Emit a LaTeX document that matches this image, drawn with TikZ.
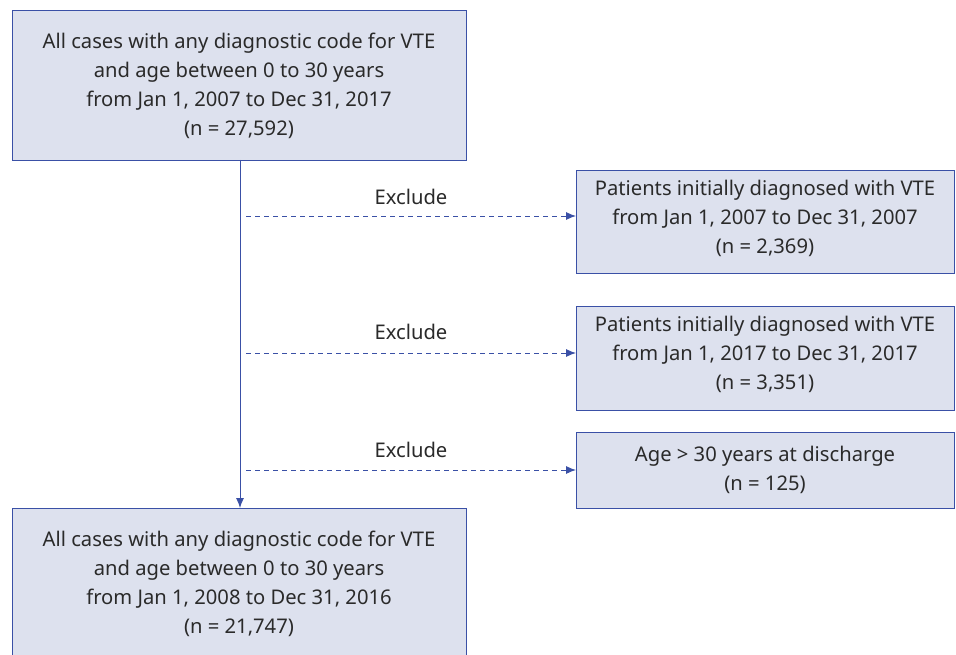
\documentclass[tikz,border=0pt]{standalone}
\usepackage{fontspec}
\setmainfont{Noto Sans}
\usetikzlibrary{arrows.meta}
\definecolor{boxfill}{HTML}{DDE1EE}
\definecolor{boxline}{HTML}{3A50A6}
\definecolor{txt}{HTML}{2A2A2A}
\begin{document}
\begin{tikzpicture}[x=1pt,y=-1pt,
  box/.style={draw=boxline,fill=boxfill,line width=1pt,inner sep=0pt},
  lbl/.style={text=txt,font=\fontsize{20.2}{29}\selectfont,align=center},
  conn/.style={draw=boxline,line width=0.9pt,-{Latex[length=10pt,width=8pt]}},
  dconn/.style={conn,dash pattern=on 5pt off 4pt}]
\useasboundingbox (0,0) rectangle (956,655);
\fill[white] (0,0) rectangle (956,655);
\node[box,minimum width=454pt,minimum height=150pt,anchor=north west] (top) at (12,10) {};
\node[lbl] at (239,86) {All cases with any diagnostic code for VTE\\and age between 0 to 30 years\\from Jan 1, 2007 to Dec 31, 2017\\(n = 27,592)};
\node[box,minimum width=454pt,minimum height=160pt,anchor=north west] (bot) at (12,508) {};
\node[lbl] at (239,584) {All cases with any diagnostic code for VTE\\and age between 0 to 30 years\\from Jan 1, 2008 to Dec 31, 2016\\(n = 21,747)};
\node[box,minimum width=378pt,minimum height=103pt,anchor=north west] (e1) at (576,170) {};
\node[lbl] at (765,218) {Patients initially diagnosed with VTE\\from Jan 1, 2007 to Dec 31, 2007\\(n = 2,369)};
\node[box,minimum width=378pt,minimum height=104pt,anchor=north west] (e2) at (576,306) {};
\node[lbl] at (765,354) {Patients initially diagnosed with VTE\\from Jan 1, 2017 to Dec 31, 2017\\(n = 3,351)};
\node[box,minimum width=378pt,minimum height=76pt,anchor=north west] (e3) at (576,432) {};
\node[lbl] at (765,470) {Age > 30 years at discharge\\(n = 125)};
\draw[conn] (240,160) -- (240,508);
\coordinate (s1) at (246,216);
\coordinate (s2) at (246,353);
\coordinate (s3) at (246,470);
\draw[dconn] (s1) -- (e1.west |- s1);
\draw[dconn] (s2) -- (e2.west |- s2);
\draw[dconn] (s3) -- (e3.west |- s3);
\node[lbl] at (411,197) {Exclude};
\node[lbl] at (411,332) {Exclude};
\node[lbl] at (411,450) {Exclude};
\end{tikzpicture}
\end{document}
